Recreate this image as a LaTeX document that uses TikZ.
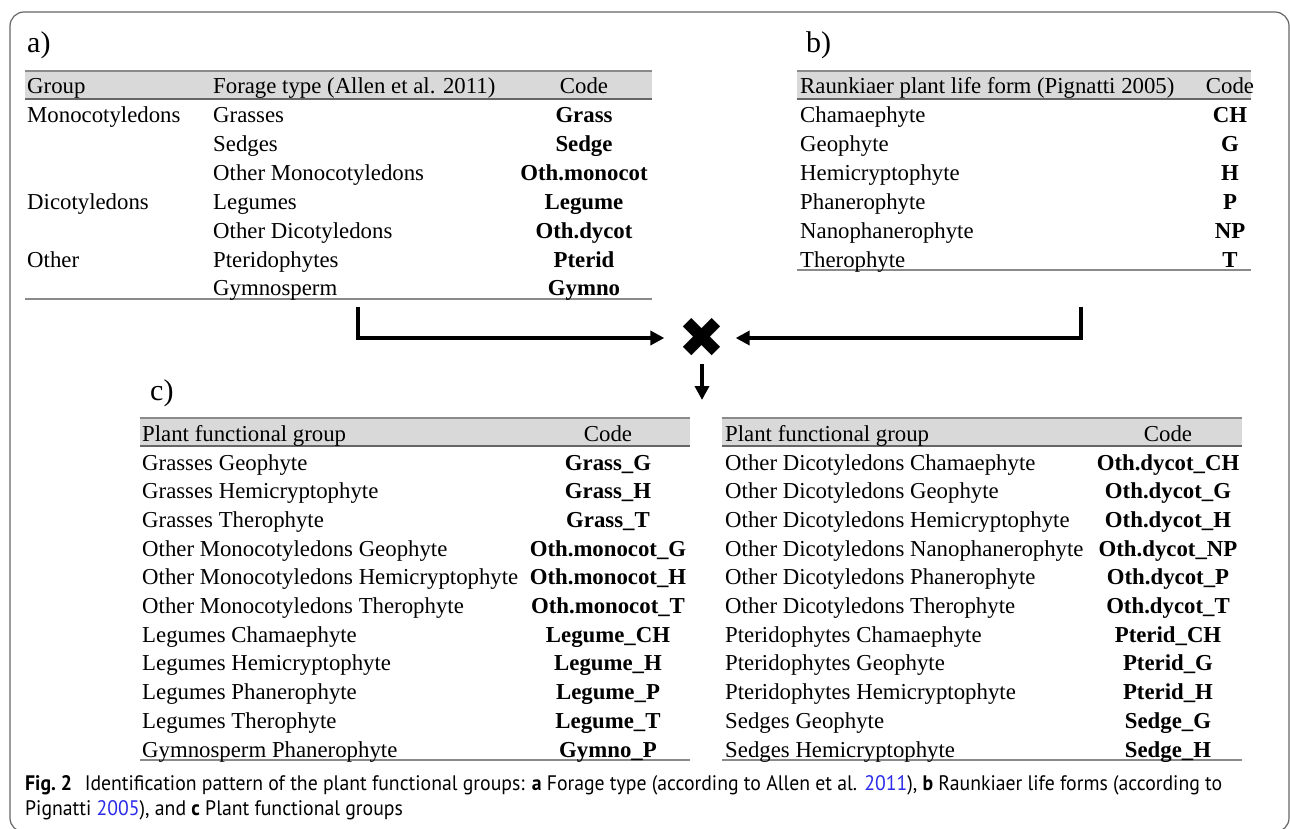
\documentclass[tikz,border=0pt]{standalone}
\usepackage{fontspec}
\setmainfont{Liberation Serif}
\newfontfamily\capfont[FakeStretch=0.94]{PT Sans}
\newfontfamily\symfont{DejaVu Sans}
\usetikzlibrary{arrows.meta}
\definecolor{hdr}{HTML}{D9D9D9}
\definecolor{ruleA}{HTML}{8A8A8A}
\definecolor{ruleB}{HTML}{666666}
\definecolor{linkblue}{HTML}{2B2BE8}
\tikzset{
  txt/.style={inner sep=0pt, font=\fontsize{22.8}{27}\selectfont},
  lt/.style={txt, anchor=base west},
  ct/.style={txt, anchor=base},
  cb/.style={inner sep=0pt, anchor=base, font=\fontsize{22.8}{27}\selectfont\bfseries},
  lab/.style={inner sep=0pt, anchor=base west, font=\fontsize{30}{34}\selectfont},
  conn/.style={line width=4pt, -{Triangle[length=14pt,width=14pt]}},
  toprule/.style={ruleA, line width=1.5pt},
  midrule/.style={ruleB, line width=2pt},
  botrule/.style={ruleA, line width=1.5pt},
  captxt/.style={inner sep=0pt, anchor=base west, font=\capfont\fontsize{21}{24}\selectfont},
}
\begin{document}
\begin{tikzpicture}[x=1pt,y=-1pt]
\useasboundingbox (0,0) rectangle (1290,829);
\draw[ruleB, line width=1.2pt, rounded corners=14pt] (10,12) rectangle (1289,832);

% ---------- table a ----------
\node[lab] (la) at (27,53) {a)};
\fill[hdr] (25,71) rectangle (652,99);
\draw[toprule] (25,71) -- (652,71);
\draw[midrule] (25,99) -- (652,99);
\draw[botrule] (25,299) -- (652,299);
\node[lt] (ah1) at (27,94) {Group};
\node[lt] (ah2) at (213,94) {Forage type (Allen et al. 2011)};
\node[ct] (ah3) at (584,94) {Code};
\foreach \g/\f/\c [count=\i from 0] in {Monocotyledons/Grasses/Grass, /Sedges/Sedge, /Other Monocotyledons/Oth.monocot, Dicotyledons/Legumes/Legume, /Other Dicotyledons/Oth.dycot, Other/Pteridophytes/Pterid, /Gymnosperm/Gymno}{
  \node[lt] (ag\i) at (27,123+28.8*\i) {\g};
  \node[lt] (af\i) at (213,123+28.8*\i) {\f};
  \node[cb] (ac\i) at (584,123+28.8*\i) {\c};
}

% ---------- table b ----------
\node[lab] (lb) at (806,53) {b)};
\fill[hdr] (797,71) rectangle (1251,99);
\draw[toprule] (797,71) -- (1251,71);
\draw[midrule] (797,99) -- (1251,99);
\draw[botrule] (797,270) -- (1251,270);
\node[lt] (bh1) at (800,94) {Raunkiaer plant life form (Pignatti 2005)};
\node[ct] (bh2) at (1230,94) {Code};
\foreach \f/\c [count=\i from 0] in {Chamaephyte/CH, Geophyte/G, Hemicryptophyte/H, Phanerophyte/P, Nanophanerophyte/NP, Therophyte/T}{
  \node[lt] (bf\i) at (800,123+28.8*\i) {\f};
  \node[cb] (bc\i) at (1230,123+28.8*\i) {\c};
}

% ---------- connectors ----------
\node[inner sep=0pt, font=\symfont\fontsize{56}{56}\selectfont] (cross) at (702,338) {✖};
\coordinate (aL) at (358,307);
\coordinate (bR) at (1081,307);
\coordinate (down) at (702,400);
\draw[conn] (aL) |- ([xshift=-14pt]cross.west);
\draw[conn] (bR) |- ([xshift=10pt]cross.east);
\draw[conn] ([yshift=-6pt]cross.south) -- (down);

% ---------- table c ----------
\node[lab] (lc) at (150,400) {c)};
\fill[hdr] (140,418) rectangle (690,446);
\draw[toprule] (140,418) -- (690,418);
\draw[midrule] (140,446) -- (690,446);
\draw[botrule] (140,760) -- (690,760);
\node[lt] (ch1) at (142,441) {Plant functional group};
\node[ct] (ch2) at (608,441) {Code};
\foreach \f/\c [count=\i from 0] in {Grasses Geophyte/Grass\_G, Grasses Hemicryptophyte/Grass\_H, Grasses Therophyte/Grass\_T, Other Monocotyledons Geophyte/Oth.monocot\_G, Other Monocotyledons Hemicryptophyte/Oth.monocot\_H, Other Monocotyledons Therophyte/Oth.monocot\_T, Legumes Chamaephyte/Legume\_CH, Legumes Hemicryptophyte/Legume\_H, Legumes Phanerophyte/Legume\_P, Legumes Therophyte/Legume\_T, Gymnosperm Phanerophyte/Gymno\_P}{
  \node[lt] (cf\i) at (142,470+28.7*\i) {\f};
  \node[cb] (cc\i) at (608,470+28.7*\i) {\c};
}

\fill[hdr] (722,418) rectangle (1242,446);
\draw[toprule] (722,418) -- (1242,418);
\draw[midrule] (722,446) -- (1242,446);
\draw[botrule] (722,760) -- (1242,760);
\node[lt] (dh1) at (725,441) {Plant functional group};
\node[ct] (dh2) at (1168,441) {Code};
\foreach \f/\c [count=\i from 0] in {Other Dicotyledons Chamaephyte/Oth.dycot\_CH, Other Dicotyledons Geophyte/Oth.dycot\_G, Other Dicotyledons Hemicryptophyte/Oth.dycot\_H, Other Dicotyledons Nanophanerophyte/Oth.dycot\_NP, Other Dicotyledons Phanerophyte/Oth.dycot\_P, Other Dicotyledons Therophyte/Oth.dycot\_T, Pteridophytes Chamaephyte/Pterid\_CH, Pteridophytes Geophyte/Pterid\_G, Pteridophytes Hemicryptophyte/Pterid\_H, Sedges Geophyte/Sedge\_G, Sedges Hemicryptophyte/Sedge\_H}{
  \node[lt] (df\i) at (725,470+28.7*\i) {\f};
  \node[cb] (dc\i) at (1168,470+28.7*\i) {\c};
}

% ---------- caption ----------
\node[captxt] (cap1) at (25,790) {\textbf{Fig.~2}\hspace{0.6em}Identification pattern of the plant functional groups: \textbf{a} Forage type (according to Allen et al. \textcolor{linkblue}{2011}), \textbf{b} Raunkiaer life forms (according to};
\node[captxt] (cap2) at (25,815) {Pignatti \textcolor{linkblue}{2005}), and \textbf{c} Plant functional groups};
\end{tikzpicture}
\end{document}
